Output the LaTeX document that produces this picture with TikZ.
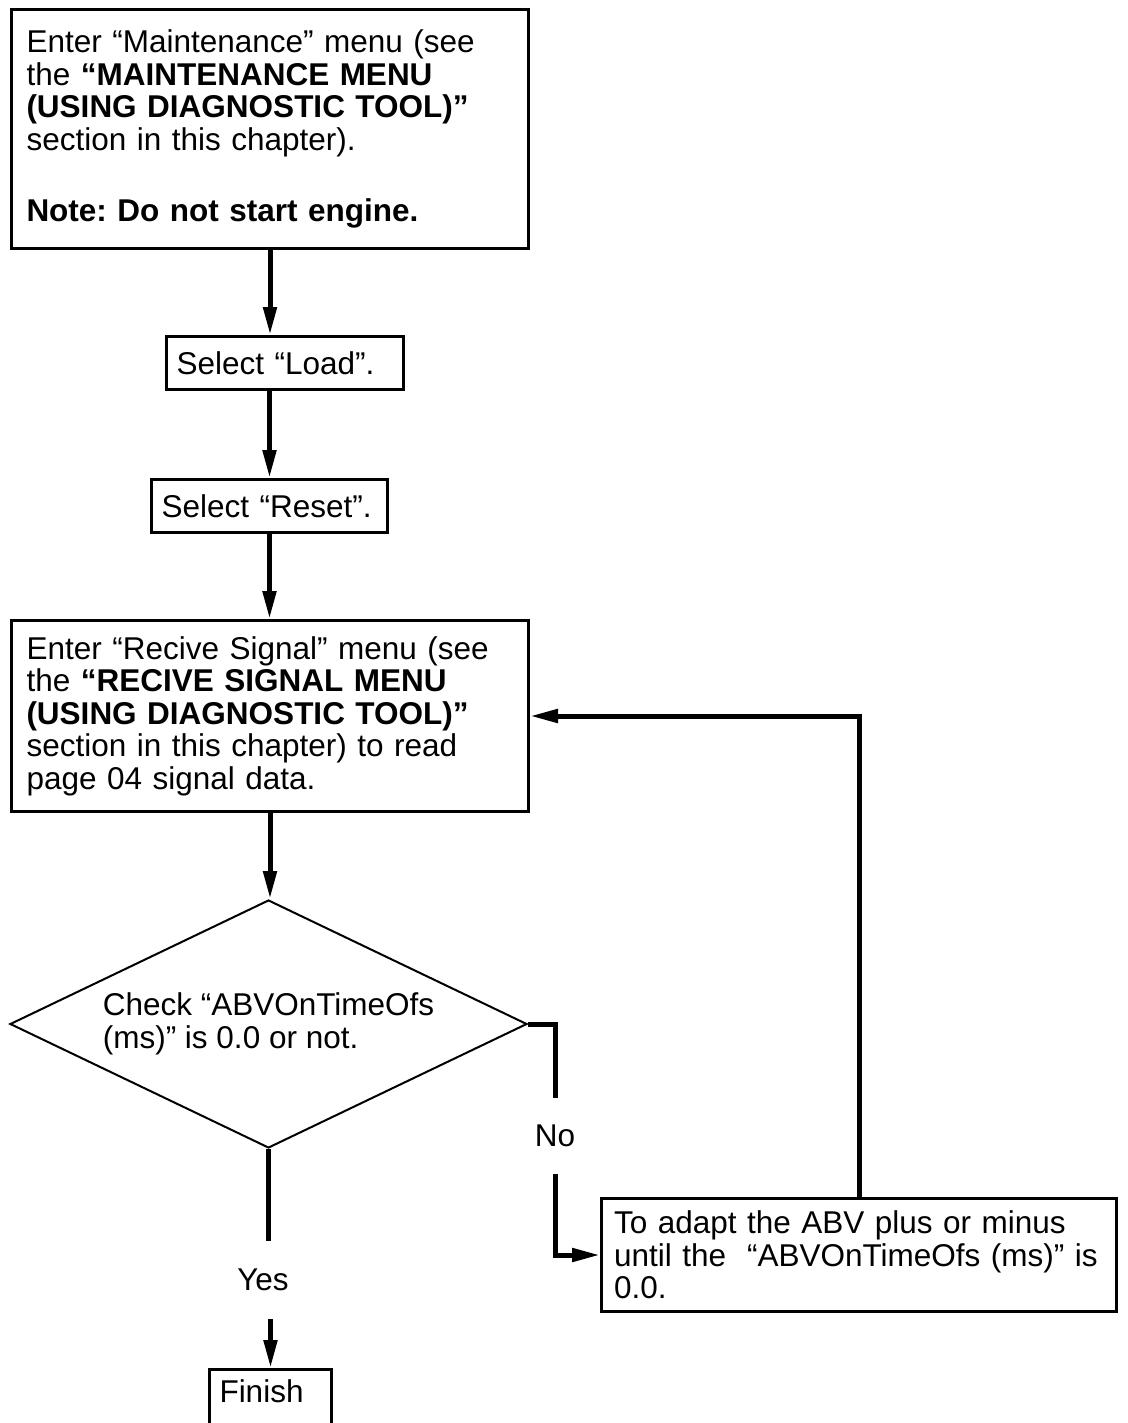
\documentclass[tikz,border=0pt]{standalone}
\usepackage{fontspec}
\setmainfont{Liberation Sans}
\usepackage{tikz}
\usetikzlibrary{shapes.geometric,arrows.meta,positioning}
\frenchspacing
\tikzset{
  stepbox/.style={draw,line width=3pt,anchor=north west,align=left,inner xsep=10pt,font=\fontsize{31.5}{32.5}\selectfont},
  decbox/.style={draw,diamond,aspect=2.085,line width=2pt,align=left,inner sep=0pt,font=\fontsize{31.5}{32.5}\selectfont},
  lbl/.style={inner xsep=2pt,inner ysep=27pt,font=\fontsize{31.5}{32.5}\selectfont},
}

\begin{document}
\begin{tikzpicture}[x=1pt,y=-1pt,
    arr/.style={-{Triangle[length=28pt,width=13pt]},line width=5pt},
    wire/.style={line width=5pt},
  ]
  \useasboundingbox (0,0) rectangle (1127,1423);

  % Maintenance and load/reset
  \node[stepbox,inner xsep=15pt,text width=487pt,minimum height=239pt] (maint) at (10,8) {Enter “Maintenance” menu (see\\ the \textbf{“MAINTENANCE MENU}\\ \textbf{(USING DIAGNOSTIC TOOL)”}\\ section in this chapter).\\[39pt] \textbf{Note: Do not start engine.}};
  \node[stepbox,text width=217pt,minimum height=53pt] (load) at (165,335) {Select “Load”.};
  \node[stepbox,text width=216pt,minimum height=53pt] (reset) at (150,478) {Select “Reset”.};
  \draw[arr] (maint.south) -- (maint.south |- load.north);
  \draw[arr] (reset.north |- load.south) -- (reset.north);

  % Recive signal
  \node[stepbox,inner xsep=15pt,text width=487pt,minimum height=191pt] (recv) at (10,619) {Enter “Recive Signal” menu (see\\ the \textbf{“RECIVE SIGNAL MENU}\\ \textbf{(USING DIAGNOSTIC TOOL)”}\\ section in this chapter) to read\\ page 04 signal data.};
  \draw[arr] (reset.south) -- (reset.south |- recv.north);

  % Check
  \node[decbox,minimum width=517pt,minimum height=248pt] (check) at (268.5,1024) {Check “ABVOnTimeOfs\\ (ms)” is 0.0 or not.};
  \draw[arr] (recv.south) -- (recv.south |- check.north);

  % No branch
  \node[stepbox,inner xsep=12.5pt,text width=490pt,minimum height=113pt] (adapt) at (600,1197) {To adapt the ABV plus or minus\\ until the\ \ “ABVOnTimeOfs (ms)” is\\ 0.0.};
  \node[lbl] (no) at (555,1136) {No};
  \draw[wire] (check.east) -| (no.north);
  \draw[arr] (no.south) |- (adapt.west);
  \draw[arr] (adapt.north) |- (recv.east);

  % Yes branch
  \node[lbl,inner ysep=28pt] (yes) at (263,1280) {Yes};
  \node[stepbox,text width=102pt,inner ysep=10pt,text depth=40pt] (finish) at (208,1368) {Finish};
  \draw[wire] (check.south) -- (check.south |- yes.north);
  \draw[arr] (finish.north |- yes.south) -- (finish.north);
\end{tikzpicture}
\end{document}
